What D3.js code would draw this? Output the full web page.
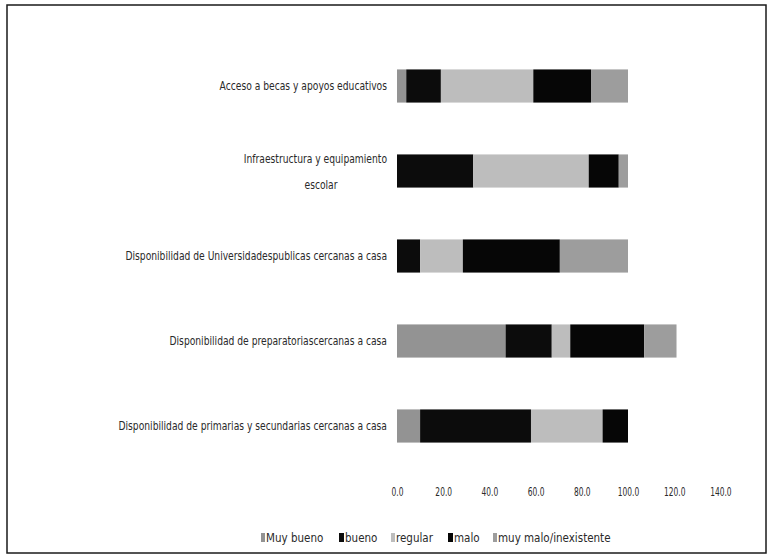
<!DOCTYPE html>
<html>
<head>
<meta charset="utf-8">
<script src="https://cdn.jsdelivr.net/npm/d3@7"></script>
<style>
  body { margin: 0; background: #fff; }
  text { font-family: "Liberation Sans Narrow", "DejaVu Sans Condensed", sans-serif; fill: #2a2a2a; }
</style>
</head>
<body>
<div id="chart"></div>
<script>
// categories, top to bottom as drawn
const categories = [
    'Acceso a becas y apoyos educativos',
    'Infraestructura y equipamiento escolar',
    'Disponibilidad de Universidadespublicas cercanas a casa',
    'Disponibilidad de preparatoriascercanas a casa',
    'Disponibilidad de primarias y secundarias cercanas a casa'
];
const series_names = ['Muy bueno', 'bueno', 'regular', 'malo', 'muy malo/inexistente'];
const muy_bueno = [4, 0, 0, 47, 10];
const bueno = [15, 33, 10, 20, 48];
const regular = [40, 50, 18.5, 8, 31];
const malo = [25, 13, 42, 32, 11];
const muy_malo = [16, 4, 29.5, 14, 0];
const x_ticks = [0, 20, 40, 60, 80, 100, 120, 140];

const series_colors = ['#939393', '#0c0c0c', '#bdbdbd', '#060606', '#9d9d9d'];

const width = 772, height = 559;
const svg = d3.select('#chart').append('svg')
    .attr('width', width)
    .attr('height', height);

// scanned frame
svg.append('rect')
    .attr('x', 7).attr('y', 5)
    .attr('width', 759).attr('height', 548)
    .attr('fill', 'none')
    .attr('stroke', '#1a1a1a')
    .attr('stroke-width', 1.5);

const rows = categories.map((c, i) => ({
    cat: c,
    'Muy bueno': muy_bueno[i],
    'bueno': bueno[i],
    'regular': regular[i],
    'malo': malo[i],
    'muy malo/inexistente': muy_malo[i]
}));

const x = d3.scaleLinear().domain([0, 140]).range([397, 720.4]);
const y = d3.scaleBand().domain(categories)
    .range([43.5, 468.5])
    .paddingInner(0.61)
    .paddingOuter(0.305);
const color = d3.scaleOrdinal().domain(series_names).range(series_colors);

const stacked = d3.stack().keys(series_names)(rows);

svg.append('g').selectAll('g')
    .data(stacked)
    .join('g')
    .attr('fill', d => color(d.key))
    .selectAll('rect')
    .data(d => d)
    .join('rect')
    .attr('x', d => x(d[0]))
    .attr('y', d => y(d.data.cat))
    .attr('width', d => x(d[1]) - x(d[0]))
    .attr('height', y.bandwidth());

// category labels, right aligned and squeezed like the narrow original font
const label_right = 387;
const squeeze = 0.85;
function add_label(px, py, anchor, str) {
    svg.append('g')
        .attr('transform', `translate(${px},${py}) scale(${squeeze},1)`)
        .append('text')
        .attr('font-size', '12px')
        .attr('text-anchor', anchor)
        .text(str);
}
categories.forEach(c => {
    const cy = y(c) + y.bandwidth() / 2;
    if (c.startsWith('Infraestructura')) {
        add_label(label_right, cy - 8, 'end', 'Infraestructura y equipamiento');
        add_label(321, cy + 18, 'middle', 'escolar');
    } else {
        add_label(label_right, cy + 4, 'end', c);
    }
});

// x axis (labels only)
const x_axis = svg.append('g')
    .attr('transform', 'translate(0,481)')
    .call(d3.axisBottom(x).tickValues(x_ticks).tickFormat(d3.format('.1f')).tickSize(0));
x_axis.select('.domain').remove();
x_axis.selectAll('text')
    .attr('font-size', '13px')
    .attr('dy', '0.9em')
    .attr('transform', 'scale(0.64,1)')
    .style('font-family', '"Liberation Sans Narrow", "DejaVu Sans Condensed", sans-serif')
    .attr('fill', '#2a2a2a');

// legend
const legend_x = [261, 339, 391, 448, 493];
const legend = svg.append('g');
series_names.forEach((s, i) => {
    const g = legend.append('g').attr('transform', `translate(${legend_x[i]},538)`);
    g.append('rect')
        .attr('x', 0).attr('y', -5)
        .attr('width', i === 1 || i === 3 ? 5 : 4)
        .attr('height', 9)
        .attr('fill', color(s));
    g.append('text')
        .attr('x', i === 1 || i === 3 ? 6 : 5)
        .attr('y', 4)
        .attr('font-size', '11.5px')
        .text(s);
});
</script>
</body>
</html>
